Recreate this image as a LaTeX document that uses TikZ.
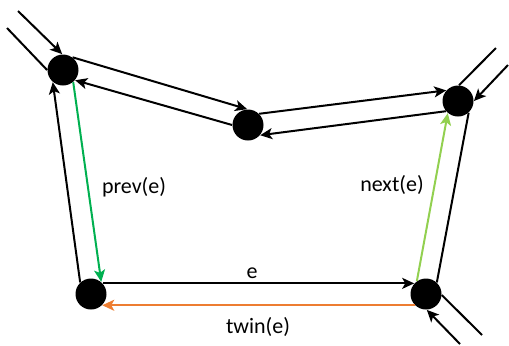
\documentclass[tikz,border=0pt]{standalone}
\usepackage{fontspec}
\setmainfont{Carlito}
\usepackage{xcolor}
\usepackage{tikz}
\usetikzlibrary{arrows.meta}
\definecolor{prevgreen}{HTML}{00B050}
\definecolor{nextgreen}{HTML}{92D050}
\definecolor{twinorange}{HTML}{ED7D31}
\tikzset{
  vtx/.style     = {circle, fill=black, draw=none, inner sep=0pt, minimum size=15.5pt},
  hedge/.style   = {-{Stealth[length=6pt, width=5.5pt, inset=1.5pt]}, line width=1pt, draw=#1},
  hedge/.default = black,
  stub/.style    = {line width=1pt, draw=black},
  lbl/.style     = {font=\fontsize{11}{13}\selectfont, inner sep=0pt},
}

\begin{document}
\begin{tikzpicture}[x=0.5pt, y=-0.5pt]
  \useasboundingbox (0,0) rectangle (509,345);

  \node[vtx] (tl)  at (63,70)   {};
  \node[vtx] (mid) at (248,125) {};
  \node[vtx] (tr)  at (458,101) {};
  \node[vtx] (br)  at (426,294) {};
  \node[vtx] (bl)  at (91,294)  {};

  % loose ends of the neighbouring faces
  \coordinate (tlin)  at (18,11);
  \coordinate (tlout) at (7,28);
  \coordinate (trout) at (496,48);
  \coordinate (trin)  at (508,65);
  \coordinate (brout) at (482,335);
  \coordinate (brin)  at (460,344);

  \draw[hedge] (tlin) -- (tl.93);
  \draw[stub]  (tl.180) -- (tlout);
  \draw[stub]  (tr.86) -- (trout);
  \draw[hedge] (trin) -- (tr.0);
  \draw[stub]  (br.-4) -- (brout);
  \draw[hedge] (brin) -- (br.-87);

  \draw[hedge] (tl.53) -- (mid.93);
  \draw[hedge] (mid.180) -- (tl.-40);
  \draw[hedge] (mid.45) -- (tr.138);
  \draw[hedge] (tr.220) -- (mid.-40);
  \draw[hedge] (bl.133) -- (tl.230);
  \draw[stub]  (tr.-48) -- (br.47);

  \draw[hedge=prevgreen]  (tl.-50) -- (bl.50);
  \draw[hedge]            (bl.42) -- (br.138);
  \draw[hedge=nextgreen]  (br.125) -- (tr.230);
  \draw[hedge=twinorange] (br.225) -- (bl.-45);

  \node[lbl] (prevlbl) at (134,187) {prev(e)};
  \node[lbl] (nextlbl) at (392,185) {next(e)};
  \node[lbl] (elbl)    at (252,273) {e};
  \node[lbl] (twinlbl) at (258,327) {twin(e)};
\end{tikzpicture}
\end{document}
